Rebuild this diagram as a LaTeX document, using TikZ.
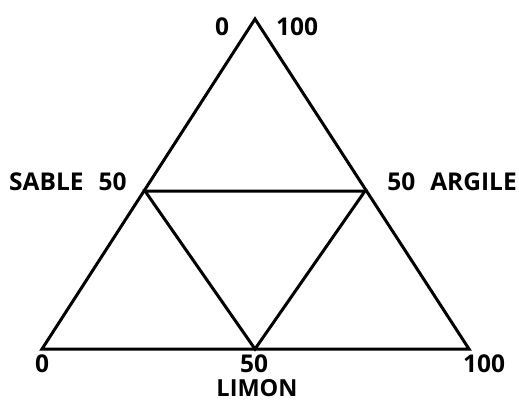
\documentclass[tikz,border=0pt]{standalone}
\usepackage{fontspec}
\setmainfont{Open Sans}
\begin{document}
\begin{tikzpicture}[x=1pt,y=-1pt,
  edge/.style={line width=3pt, line join=miter, line cap=butt},
  lab/.style={font=\fontsize{24.5}{27}\selectfont\bfseries, inner sep=0pt}]
\useasboundingbox (0,0) rectangle (519,402);
\coordinate (A) at (255,19);
\coordinate (L) at (42,349);
\coordinate (R) at (469,349);
\coordinate (ML) at (145,191);
\coordinate (MR) at (365,191);
\coordinate (MB) at (255,349);
\draw[edge] (A) -- (R) -- (L) -- cycle;
\draw[edge] (ML) -- (MR) -- (MB) -- cycle;
\node[lab] (t0) at (222,27) {0};
\node[lab] (t100) at (297,27) {100};
\node[lab, anchor=west] (sable) at (9,182) {SABLE\hspace{15pt}50};
\node[lab, anchor=east] (argile) at (517,182) {50\hspace{15pt}ARGILE};
\node[lab] (b0) at (42,364) {0};
\node[lab] (b50) at (254,364) {50};
\node[lab] (b100) at (484,364) {100};
\node[lab, anchor=base, font=\fontsize{23.5}{26}\selectfont\bfseries] (limon) at (257,396) {LIMON};
\end{tikzpicture}
\end{document}
